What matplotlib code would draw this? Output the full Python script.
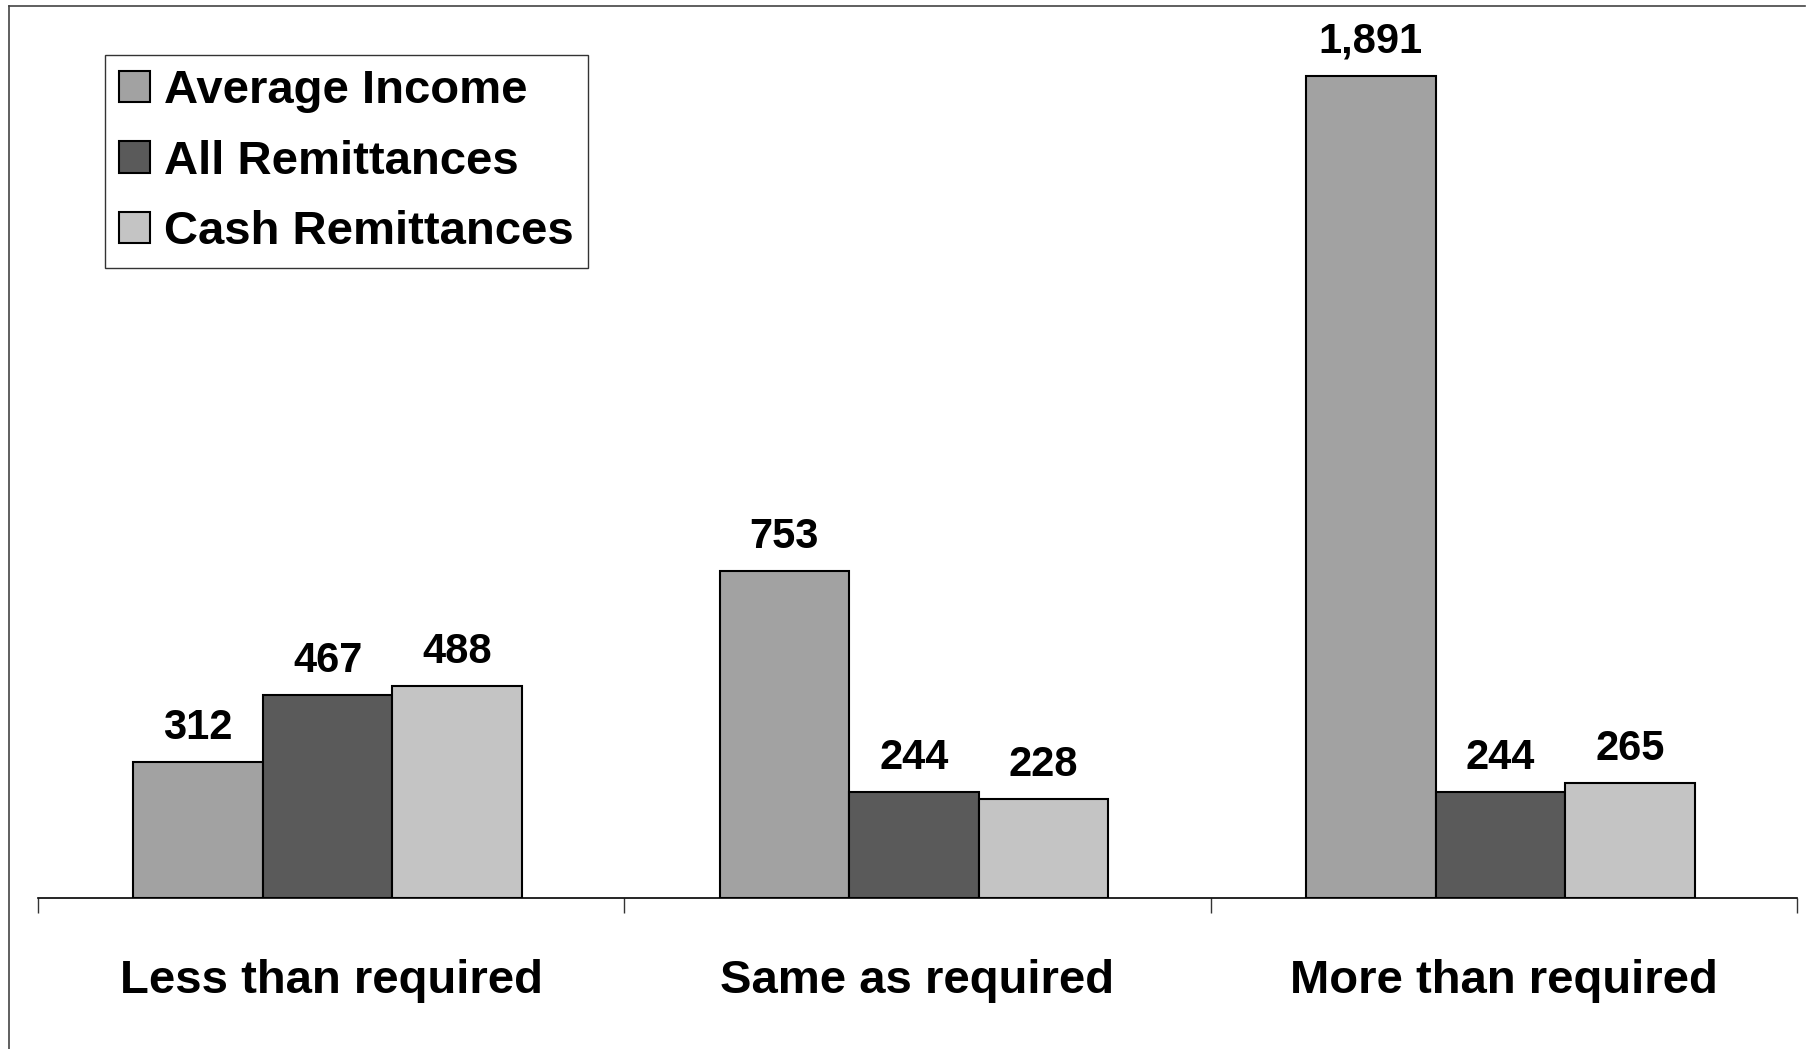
import matplotlib
matplotlib.use("Agg")
import matplotlib.pyplot as plt
import numpy as np
from matplotlib.lines import Line2D

plt.rcParams['font.family'] = ['Liberation Sans', 'DejaVu Sans']

categories = ["Less than required", "Same as required", "More than required"]
series_names = ["Average Income", "All Remittances", "Cash Remittances"]
average_income = [312, 753, 1891]
all_remittances = [467, 244, 244]
cash_remittances = [488, 228, 265]
colors = ["#a2a2a2", "#5a5a5a", "#c4c4c4"]

fig = plt.figure(figsize=(18.12, 10.49), dpi=100)
ax = fig.add_axes([38/1812, (1049-898)/1049, (1797-38)/1812, (898-50)/1049])

x = np.arange(len(categories))
w = 0.221
data = [average_income, all_remittances, cash_remittances]
for i, (vals, name, c) in enumerate(zip(data, series_names, colors)):
    bars = ax.bar(x + (i - 1) * w - 0.006, vals, width=w, color=c, edgecolor="black",
                  linewidth=1.5, label=name)
    for b, v in zip(bars, vals):
        ax.annotate(f"{v:,}", (b.get_x() + b.get_width() / 2, v),
                    xytext=(0, 10), textcoords="offset points",
                    ha="center", va="bottom", fontsize=30, fontweight="bold")

ax.set_xlim(-0.5, 2.5)
ax.set_ylim(0, 1950)
for s in ["top", "right", "left"]:
    ax.spines[s].set_visible(False)
ax.spines["bottom"].set_linewidth(1.2)
ax.set_yticks([])
ax.set_xticks([-0.5, 0.5, 1.5, 2.5])
ax.set_xticklabels([])
ax.tick_params(axis="x", direction="out", length=11, width=1.0, color="#333333")
for xi, cat in zip(x, categories):
    ax.text(xi, -(981 - 898) / 848, cat, transform=ax.get_xaxis_transform(),
            ha="center", va="center", fontsize=34, fontweight="bold")

leg = ax.legend(loc="upper left", bbox_to_anchor=(105/1812, 1 - 55/1049),
                bbox_transform=fig.transFigure,
                prop={"weight": "bold", "size": 34}, frameon=True, fancybox=False,
                edgecolor="black", handlelength=0.65, handleheight=0.65,
                handletextpad=0.3, borderpad=0.3, labelspacing=0.56,
                borderaxespad=0)
leg.get_frame().set_linewidth(1.0)

# scanned page border
fig.add_artist(Line2D([9/1812, 1805/1812], [1 - 6/1049, 1 - 6/1049],
                      transform=fig.transFigure, color="#444444", linewidth=1.2))
fig.add_artist(Line2D([9/1812, 9/1812], [0, 1 - 6/1049],
                      transform=fig.transFigure, color="#444444", linewidth=1.2))

fig.savefig("out.png", dpi=100, facecolor="white")
